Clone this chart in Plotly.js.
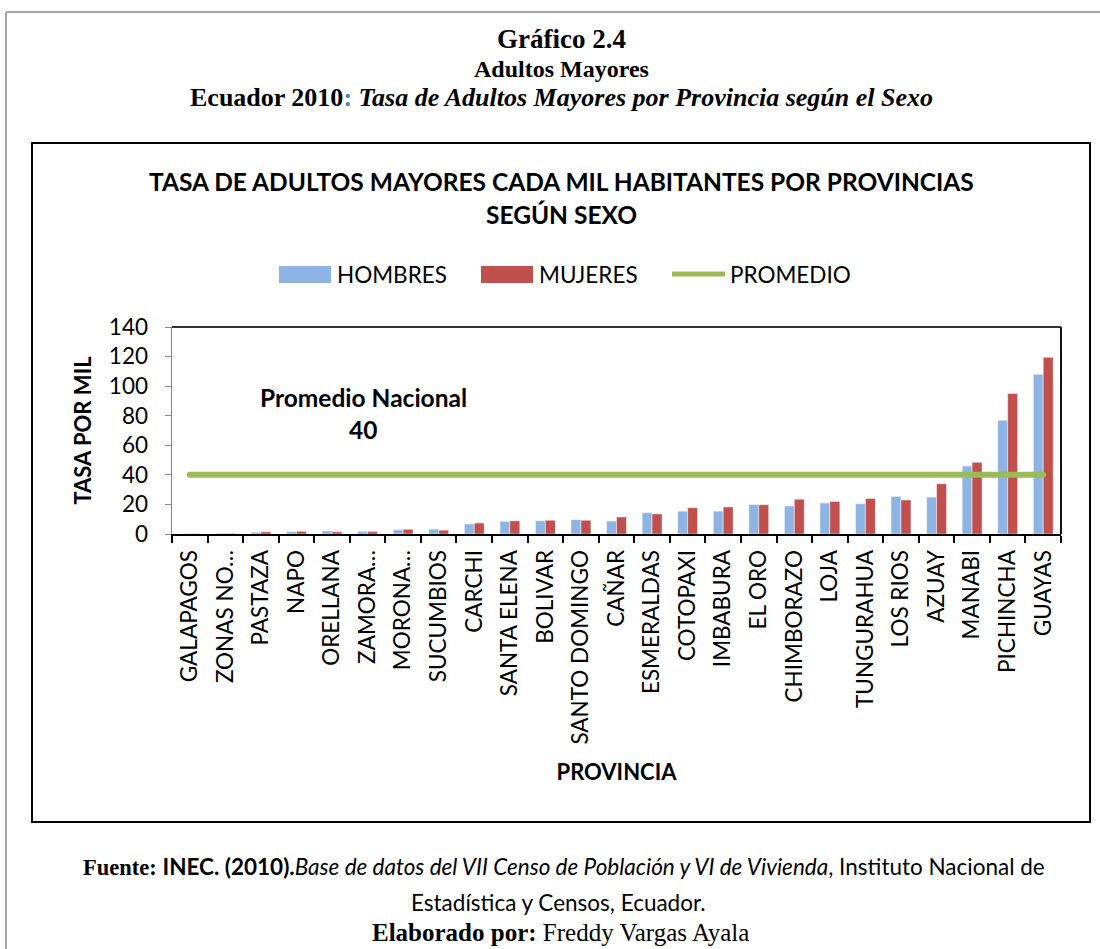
<!DOCTYPE html>
<html><head><meta charset="utf-8">
<script src="https://cdn.plot.ly/plotly-3.0.1.min.js"></script>
<style>html,body{margin:0;padding:0;background:#fff}.js-line{stroke-linecap:round}</style>
</head><body><div id="chart" style="width:1100px;height:949px"></div>
<script>
const categorias = ["GALAPAGOS","ZONAS NO…","PASTAZA","NAPO","ORELLANA","ZAMORA…","MORONA…","SUCUMBIOS","CARCHI","SANTA ELENA","BOLIVAR","SANTO DOMINGO","CAÑAR","ESMERALDAS","COTOPAXI","IMBABURA","EL ORO","CHIMBORAZO","LOJA","TUNGURAHUA","LOS RIOS","AZUAY","MANABI","PICHINCHA","GUAYAS"];
const hombres = [0.2,0.5,1.2,1.6,2.1,1.8,2.9,3.3,6.8,8.6,9.0,9.8,8.8,14.5,15.5,15.5,20.0,19.0,21.0,20.5,25.5,25.0,46.0,77.0,108.0];
const mujeres = [0.2,0.4,1.5,1.8,1.5,1.7,3.2,2.6,7.4,8.9,9.3,9.3,11.5,13.6,17.8,18.3,19.8,23.5,22.0,24.0,23.0,34.0,48.5,95.0,119.5];
const promedio = [40,40,40,40,40,40,40,40,40,40,40,40,40,40,40,40,40,40,40,40,40,40,40,40,40];
const yTicks = [0,20,40,60,80,100,120,140];

const L = 172, R = 1061, T = 327, B = 534, W = 1100, H = 949;
const px2x = x => (x - L) / (R - L);
const px2y = y => (B - y) / (B - T);

const sans = "Lato, 'Open Sans', sans-serif";
const serif = "'Liberation Serif', 'DejaVu Serif', serif";

const traces = [
  {type:"bar", name:"HOMBRES", x:categorias, y:hombres,
   marker:{color:"#8DB4E2", line:{color:"rgba(255,255,255,0.55)", width:1}}},
  {type:"bar", name:"MUJERES", x:categorias, y:mujeres,
   marker:{color:"#C0504D", line:{color:"rgba(255,255,255,0.45)", width:1}}},
  {type:"scatter", mode:"lines", name:"PROMEDIO", x:categorias, y:promedio,
   line:{color:"#9BBB59", width:6}}
];

function ann(text, xpx, ypx, size, family, anchor) {
  return {text, x:px2x(xpx), y:px2y(ypx), xref:"paper", yref:"paper",
    showarrow:false, xanchor:anchor||"center", yanchor:"middle",
    font:{family, size, color:"#000"}};
}

const annotations = [
  ann("<b>Gráfico 2.4</b>", 561, 39, 27, serif),
  ann("<b>Adultos Mayores</b>", 561, 69, 24, serif),
  ann("<b>Ecuador 2010</b><span style='color:#4F81BD'><b>:</b></span> <b><i>Tasa de Adultos Mayores por Provincia según el Sexo</i></b>", 561, 97, 26, serif),
  ann("<b>TASA DE ADULTOS MAYORES CADA MIL HABITANTES POR PROVINCIAS</b>", 561, 181, 24.5, sans),
  ann("<b>SEGÚN SEXO</b>", 561, 214, 24.5, sans),
  ann("HOMBRES", 335, 274, 22.5, sans, "left"),
  ann("MUJERES", 537, 274, 22.5, sans, "left"),
  ann("PROMEDIO", 728, 274, 22.5, sans, "left"),
  ann("<b>Promedio Nacional</b>", 363, 397, 24.5, sans),
  ann("<b>40</b>", 363, 429, 24.5, sans),
  ann("<span style=\"font-family:'Liberation Serif'\"><b>Fuente:</b></span> <b>INEC. (2010).</b><i>Base de datos del VII Censo de Población y VI de Vivienda</i>, Instituto Nacional de", 564, 866, 22.5, sans),
  ann("Estadística y Censos, Ecuador.", 558, 902, 22.5, sans),
  ann("<b>Elaborado por:</b> Freddy Vargas Ayala", 560, 933, 25, serif)
];

const shapes = [
  {type:"line", xref:"paper", yref:"paper", x0:px2x(6), x1:px2x(1102), y0:px2y(12), y1:px2y(12), line:{color:"#a6a6a6", width:2}},
  {type:"line", xref:"paper", yref:"paper", x0:px2x(6), x1:px2x(6), y0:px2y(12), y1:px2y(952), line:{color:"#a6a6a6", width:2}},
  {type:"rect", xref:"paper", yref:"paper", x0:px2x(32), x1:px2x(1090), y0:px2y(822), y1:px2y(143), line:{color:"#000", width:2}},
  {type:"line", xref:"paper", yref:"paper", x0:0, x1:1, y0:1, y1:1, line:{color:"#333", width:2}},
  {type:"line", xref:"paper", yref:"paper", x0:1, x1:1, y0:0, y1:1, line:{color:"#111", width:2}},
  {type:"rect", xref:"paper", yref:"paper", x0:px2x(279), x1:px2x(331), y0:px2y(283), y1:px2y(266), fillcolor:"#8DB4E2", line:{width:0}},
  {type:"rect", xref:"paper", yref:"paper", x0:px2x(481), x1:px2x(533), y0:px2y(283), y1:px2y(266), fillcolor:"#C0504D", line:{width:0}},
  {type:"line", xref:"paper", yref:"paper", x0:px2x(672), x1:px2x(725), y0:px2y(274), y1:px2y(274), line:{color:"#9BBB59", width:5}}
];

const layout = {
  width:W, height:H,
  margin:{l:L, r:W-R, t:T, b:H-B, pad:0},
  paper_bgcolor:"#fff", plot_bgcolor:"#fff",
  showlegend:false,
  barmode:"group", bargap:0.44, bargroupgap:0,
  font:{family:sans, color:"#000"},
  xaxis:{type:"category", automargin:false, showgrid:false, zeroline:false,
    showline:true, linecolor:"#000", linewidth:2,
    ticks:"outside", tickson:"boundaries", ticklen:7, tickcolor:"#000", tickwidth:2,
    tickangle:-90, ticklabelstandoff:5, tickfont:{family:sans, size:22.5, color:"#000"},
    title:{text:"<b>PROVINCIA</b>", font:{family:sans, size:22, color:"#000"}, standoff:21}},
  yaxis:{range:[0,140], tickvals:yTicks, ticktext:yTicks.map(String), automargin:false,
    showgrid:false, zeroline:false, showline:true, linecolor:"#868686", linewidth:1.5,
    ticks:"outside", ticklen:6, tickcolor:"#868686", ticklabelstandoff:12,
    tickfont:{family:sans, size:22.5, color:"#000"},
    title:{text:"<b>TASA POR MIL</b>", font:{family:sans, size:22, color:"#000"}, standoff:11}},
  annotations, shapes
};

Plotly.newPlot("chart", traces, layout, {displayModeBar:false, staticPlot:true});
</script>
</body></html>
